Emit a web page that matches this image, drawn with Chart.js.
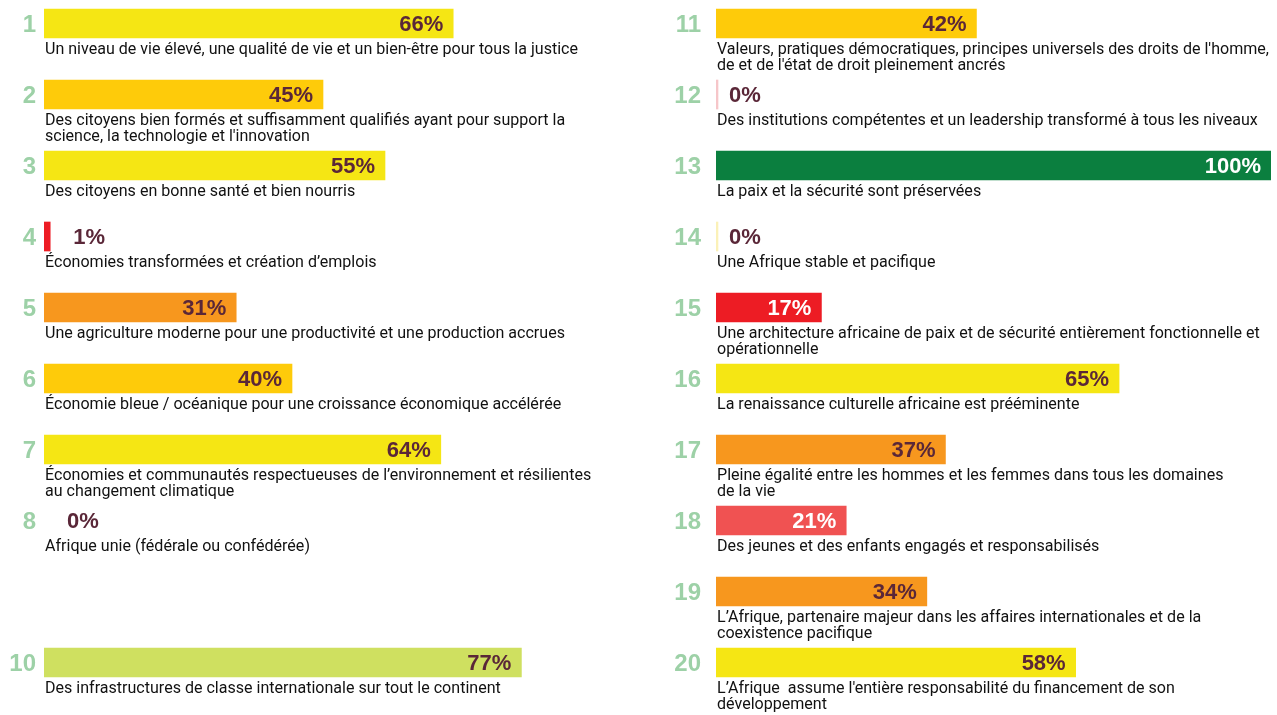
<!DOCTYPE html>
<html><head><meta charset="utf-8">
<script src="https://cdn.jsdelivr.net/npm/chart.js@4.4.1/dist/chart.umd.min.js"></script>
<style>
html,body{margin:0;padding:0;background:#fff;overflow:hidden;width:1277px;height:715px;}
#wrap{position:relative;width:1277px;height:715px;overflow:hidden;}
canvas{position:absolute;top:-12px;}
#cl{left:0;}
#cr{left:660px;}
</style></head><body>
<div id="wrap">
<canvas id="cl" width="670" height="740"></canvas>
<canvas id="cr" width="617" height="740"></canvas>
</div>
<script>
// ---- data ----
const goalsLeft = ['1','2','3','4','5','6','7','8','9','10'];
const valuesLeft = [66, 45, 55, 1, 31, 40, 64, 0, null, 77];
const goalsRight = ['11','12','13','14','15','16','17','18','19','20'];
const valuesRight = [42, 0, 100, 0, 17, 65, 37, 21, 34, 58];
const descLeft = [
  ['Un niveau de vie élevé, une qualité de vie et un bien-être pour tous la justice'],
  ['Des citoyens bien formés et suffisamment qualifiés ayant pour support la', "science, la technologie et l'innovation"],
  ['Des citoyens en bonne santé et bien nourris'],
  ['Économies transformées et création d’emplois'],
  ['Une agriculture moderne pour une productivité et une production accrues'],
  ['Économie bleue / océanique pour une croissance économique accélérée'],
  ['Économies et communautés respectueuses de l’environnement et résilientes', 'au changement climatique'],
  ['Afrique unie (fédérale ou confédérée)'],
  [],
  ['Des infrastructures de classe internationale sur tout le continent']
];
const descRight = [
  ["Valeurs, pratiques démocratiques, principes universels des droits de l'homme,", "de et de l'état de droit pleinement ancrés"],
  ['Des institutions compétentes et un leadership transformé à tous les niveaux'],
  ['La paix et la sécurité sont préservées'],
  ['Une Afrique stable et pacifique'],
  ['Une architecture africaine de paix et de sécurité entièrement fonctionnelle et', 'opérationnelle'],
  ['La renaissance culturelle africaine est prééminente'],
  ['Pleine égalité entre les hommes et les femmes dans tous les domaines', 'de la vie'],
  ['Des jeunes et des enfants engagés et responsabilisés'],
  ['L’Afrique, partenaire majeur dans les affaires internationales et de la', 'coexistence pacifique'],
  ["L’Afrique  assume l'entière responsabilité du financement de son", 'développement']
];

// ---- styles ----
const barColorsLeft = ['#f5e614','#fecb0a','#f5e614','#ed1c24','#f7971e','#fecb0a','#f5e614','#ffffff','#ffffff','#cfe060'];
const barColorsRight = ['#fecb0a','#f6c6c9','#0b7f3f','#fbf1b8','#ed1c24','#f5e614','#f7971e','#f05252','#f7971e','#f5e614'];
const MAROON = '#5a2738';
const labelColorsLeft = barColorsLeft.map(() => MAROON);
const labelColorsRight = barColorsRight.map((c, i) => (i === 2 || i === 4 || i === 7) ? '#ffffff' : MAROON);
const DESC_FONT = '17px Roboto, "DejaVu Sans Condensed", sans-serif';
const PCT_FONT = 'bold 22px "Liberation Sans", Arial, sans-serif';

// condensed look: horizontal squeeze so the first caption spans ~533px as in the reference
const DESC_SCALE = (function () {
  const c = document.createElement('canvas').getContext('2d');
  c.font = DESC_FONT;
  return 533 / c.measureText(descLeft[0][0]).width;
})();

function makeLabelPlugin(desc, labelColors, smallOffset) {
  return {
    id: 'labels',
    afterDatasetsDraw(chart) {
      const ctx = chart.ctx;
      const meta = chart.getDatasetMeta(0);
      const xs = chart.scales.x;
      const area = chart.chartArea;
      const values = chart.data.datasets[0].data;
      ctx.save();
      meta.data.forEach((bar, i) => {
        const v = values[i];
        const cy = bar.y;
        if (v !== null && v !== undefined) {
          ctx.font = PCT_FONT;
          ctx.fillStyle = labelColors[i];
          ctx.textBaseline = 'middle';
          const end = Math.min(xs.getPixelForValue(v), area.right);
          if (v >= 5) {
            ctx.textAlign = 'right';
            ctx.fillText(v + '%', end - 10, cy + 1);
          } else {
            ctx.textAlign = 'left';
            ctx.fillText(v + '%', end + smallOffset, cy + 1);
          }
        }
        const lines = desc[i] || [];
        ctx.font = DESC_FONT;
        ctx.fillStyle = '#111111';
        ctx.textAlign = 'left';
        ctx.textBaseline = 'middle';
        const bottom = cy + 14.5;
        lines.forEach((ln, k) => {
          ctx.save();
          ctx.translate(area.left + 1, bottom + 12 + k * 16);
          ctx.scale(DESC_SCALE, 1);
          ctx.fillText(ln, 0, 0);
          ctx.restore();
        });
      });
      ctx.restore();
    }
  };
}

function makeChart(id, labels, values, colors, labelColors, desc, axisWidth, tickPad, xMax, smallOffset) {
  return new Chart(document.getElementById(id), {
    type: 'bar',
    data: {
      labels: labels,
      datasets: [{
        data: values,
        backgroundColor: colors,
        borderWidth: 0,
        barThickness: 29,
        minBarLength: 2,
        clip: 0
      }]
    },
    options: {
      indexAxis: 'y',
      responsive: false,
      animation: false,
      layout: { padding: { left: 0, right: 6, top: 0, bottom: 30 } },
      plugins: { legend: { display: false }, tooltip: { enabled: false } },
      scales: {
        x: { display: false, min: 0, max: xMax },
        y: {
          grid: { display: false, drawTicks: false },
          border: { display: false },
          afterFit(s) { s.width = axisWidth; s.paddingTop = 0; s.paddingBottom = 0; },
          ticks: {
            padding: tickPad,
            labelOffset: 2,
            color: '#9dd1a7',
            font: { family: '"Liberation Sans", Arial, sans-serif', size: 24, weight: 'bold' },
            callback(val, idx) { return values[idx] === null ? '' : labels[idx]; }
          }
        }
      }
    },
    plugins: [makeLabelPlugin(desc, labelColors, smallOffset)]
  });
}

makeChart('cl', goalsLeft, valuesLeft, barColorsLeft, labelColorsLeft, descLeft, 44, 8, 100, 23);
// right panel is cut by the page edge: 100% reaches past the visible area
makeChart('cr', goalsRight, valuesRight, barColorsRight, labelColorsRight, descRight, 56, 15, 89.5, 13);
</script>
</body></html>
